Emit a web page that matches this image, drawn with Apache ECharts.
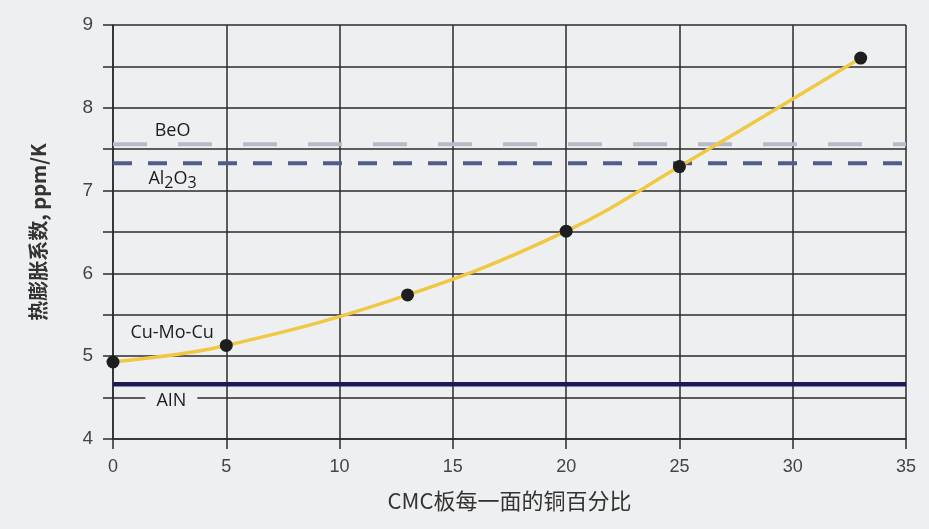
<!DOCTYPE html>
<html><head><meta charset="utf-8">
<script src="https://cdn.jsdelivr.net/npm/echarts@6/dist/echarts.min.js"></script>
<style>html,body{margin:0;padding:0;background:#eeeff1}#c{width:929px;height:529px}</style>
</head><body><div id="c"></div>
<script>
const xPercent = [0, 5, 13, 20, 25, 33];
const cteCuMoCu = [4.93, 5.13, 5.74, 6.51, 7.29, 8.6];
const refX = [0, 35];
const beoValue = 7.56;
const al2o3Value = 7.33;
const ainValue = 4.66;
const labelNames = ['BeO', 'Al2O3', 'Cu-Mo-Cu', 'AIN'];
const labelX = [2.65, 2.65, 2.63, 2.6];
const labelY = [7.71, 7.13, 5.28, 4.46];
const yTicks = [4, 5, 6, 7, 8, 9];

const chart = echarts.init(document.getElementById('c'));
const numFont = '"Liberation Sans Narrow","Liberation Sans",Arial,sans-serif';
const cjk = '"Noto Sans CJK SC","Noto Sans",sans-serif';
const lblFont = '"Open Sans","Noto Sans",sans-serif';
const lineColor = '#2b2b2b';
const bg = '#eeeff1';

const labelData = labelNames.map((n, i) => {
  const d = { value: [labelX[i], labelY[i]], name: n };
  if (n === 'AIN') d.label = { backgroundColor: bg, padding: [3, 11, 3, 11] };
  return d;
});

chart.setOption({
  backgroundColor: bg,
  animation: false,
  grid: { left: 113, right: 23, top: 25, bottom: 90 },
  xAxis: {
    type: 'value', min: 0, max: 35, interval: 5,
    name: 'CMC板每一面的铜百分比', nameLocation: 'middle', nameGap: 51,
    nameTextStyle: { fontFamily: cjk, fontSize: 22, color: '#333' },
    axisLine: { show: true, lineStyle: { color: lineColor, width: 1.5 } },
    axisTick: { show: true, length: 10, lineStyle: { color: lineColor, width: 1.5 } },
    axisLabel: { margin: 19, fontFamily: numFont, fontSize: 18, color: '#444' },
    splitLine: { show: true, lineStyle: { color: lineColor, width: 1.5 } }
  },
  yAxis: {
    type: 'value', min: 4, max: 9, interval: 0.5,
    name: '热膨胀系数, ppm/K', nameLocation: 'middle', nameGap: 65,
    nameTextStyle: { fontFamily: cjk, fontSize: 20, fontWeight: 'bold', color: '#333' },
    axisLine: { show: true, lineStyle: { color: lineColor, width: 1.5 } },
    axisTick: { show: true, length: 10, lineStyle: { color: lineColor, width: 1.5 } },
    axisLabel: { margin: 20, fontFamily: numFont, fontSize: 19, color: '#444',
      formatter: v => (yTicks.indexOf(v) >= 0 ? String(v) : '') },
    splitLine: { show: true, lineStyle: { color: lineColor, width: 1.5 } }
  },
  series: [
    { type: 'line', data: refX.map(x => [x, beoValue]), symbol: 'none', silent: true,
      lineStyle: { color: '#b9b9cc', width: 4, type: [34, 31] }, z: 3 },
    { type: 'line', data: refX.map(x => [x, al2o3Value]), symbol: 'none', silent: true,
      lineStyle: { color: '#525c8a', width: 4, type: [19, 16] }, z: 3 },
    { type: 'line', data: refX.map(x => [x, ainValue]), symbol: 'none', silent: true,
      lineStyle: { color: '#1b1a56', width: 4.5 }, z: 3 },
    { type: 'line', data: xPercent.map((x, i) => [x, cteCuMoCu[i]]), smooth: 0.4,
      symbol: 'none', lineStyle: { color: '#f1c843', width: 3.5 }, z: 4 },
    { type: 'scatter', data: xPercent.map((x, i) => [x, cteCuMoCu[i]]), symbolSize: 13,
      itemStyle: { color: '#1e1e1e', opacity: 1 }, z: 5 },
    { type: 'scatter', data: labelData, symbolSize: 1, itemStyle: { color: 'rgba(0,0,0,0)' }, z: 6, silent: true,
      label: {
        show: true, opacity: 1, position: [0, 0], align: 'center', verticalAlign: 'middle',
        color: '#1c1c1c', fontFamily: lblFont, fontSize: 18, textBorderWidth: 0,
        formatter: p => p.name === 'Al2O3' ? 'Al{s|2}O{s|3}' : p.name,
        rich: { s: { fontSize: 16, padding: [9, 0, 0, 0], color: '#1c1c1c', fontFamily: lblFont } }
      }
    }
  ]
});
</script></body></html>
